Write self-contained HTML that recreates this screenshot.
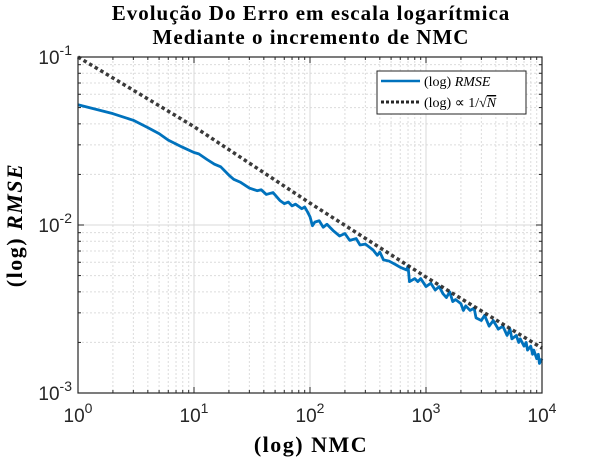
<!DOCTYPE html>
<html><head><meta charset="utf-8"><style>
body{margin:0;background:#fff;}
svg{display:block;}
</style></head><body>
<svg id="chart" width="600" height="460" xmlns="http://www.w3.org/2000/svg">
<rect width="600" height="460" fill="#fff"/>
<g id="grid"></g>
<g id="series"></g>
<g id="axes"></g>
<text x="311" y="20" text-anchor="middle" font-family="Liberation Serif, serif" font-weight="bold" font-size="21" letter-spacing="1">Evolução Do Erro em escala logarítmica</text>
<text x="311" y="44" text-anchor="middle" font-family="Liberation Serif, serif" font-weight="bold" font-size="21" letter-spacing="1">Mediante o incremento de NMC</text>
<text x="311" y="452" text-anchor="middle" font-family="Liberation Serif, serif" font-weight="bold" font-size="22" letter-spacing="1.5">(log) NMC</text>
<text transform="translate(22,225) rotate(-90)" text-anchor="middle" font-family="Liberation Serif, serif" font-weight="bold" font-size="22" letter-spacing="1.5">(log) <tspan font-style="italic">RMSE</tspan></text>
<g>
<rect x="377" y="71" width="149" height="43" fill="#fff" stroke="#262626" stroke-width="1"/>
<line x1="381" y1="81" x2="420" y2="81" stroke="#0072BD" stroke-width="2.5"/>
<text x="424" y="86" font-family="Liberation Serif, serif" font-size="14">(log) <tspan font-style="italic">RMSE</tspan></text>
<line x1="381" y1="102" x2="420" y2="102" stroke="#262626" stroke-width="3" stroke-dasharray="3,2"/>
<text x="424" y="107" font-family="Liberation Serif, serif" font-size="14">(log) ∝ 1/√<tspan text-decoration="overline" font-style="italic">N</tspan></text>
</g>
</svg>
<script>
const nmc = [1,2,3,4,5,6,8,10,11,13,15,17,20,22,25,30,35,38,42,48,55,60,65,70,75,85,90,95,100,105,110,120,130,140,160,180,200,220,250,270,300,350,380,400,430,480,550,600,680,700,720,800,850,900,1000,1100,1200,1300,1400,1500,1600,1700,1800,2000,2100,2200,2400,2600,2700,3000,3200,3500,3800,4200,4600,5000,5300,5500,6000,6300,6500,7000,7300,7500,8000,8300,8500,9000,9300,9500,10000];
const rmse = [0.052,0.046,0.042,0.038,0.035,0.032,0.029,0.027,0.0265,0.0245,0.023,0.0222,0.0198,0.0187,0.0180,0.0166,0.0160,0.0162,0.0152,0.0156,0.0140,0.0134,0.0137,0.0130,0.0133,0.0125,0.0128,0.0120,0.0112,0.0099,0.0104,0.0106,0.0097,0.0101,0.0092,0.0086,0.0089,0.0081,0.0083,0.0076,0.0077,0.0071,0.0066,0.0069,0.0062,0.0061,0.0058,0.0056,0.0054,0.0057,0.0046,0.0048,0.0046,0.0048,0.0043,0.0045,0.0041,0.0043,0.0039,0.0037,0.0040,0.0035,0.0036,0.0034,0.0031,0.0033,0.0031,0.0032,0.0028,0.0027,0.0029,0.0025,0.0027,0.0024,0.0025,0.0022,0.0024,0.0021,0.0022,0.0020,0.0021,0.0019,0.0020,0.0018,0.0019,0.0017,0.0018,0.0016,0.0017,0.0015,0.0016];
const refN = [1,10,100,1000,10000];
const refVal = [0.1,0.0385,0.0135,0.0049,0.00185];
const xTickExp = [0,1,2,3,4];
const yTickExp = [-3,-2,-1];

const L=78,R=542,T=57,B=393;
const xs=v=>L+(Math.log10(v)-0)/4*(R-L);
const ys=v=>B-(Math.log10(v)+3)/2*(B-T);
const NS="http://www.w3.org/2000/svg";
function mk(tag,attrs,parent){const e=document.createElementNS(NS,tag);for(const k in attrs)e.setAttribute(k,attrs[k]);parent.appendChild(e);return e;}
const grid=document.getElementById('grid'),series=document.getElementById('series'),axes=document.getElementById('axes');
mk('rect',{x:L,y:T,width:R-L,height:B-T,fill:'#fff'},grid);
for(let d=0;d<4;d++)for(let m=2;m<=9;m++){const x=xs(m*Math.pow(10,d));
 const l=mk('line',{x1:x,x2:x,y1:T,y2:B,stroke:'#dcdcdc','stroke-dasharray':'2,2','stroke-width':1},grid);
 }
for(let d=-3;d<-1;d++)for(let m=2;m<=9;m++){const y=ys(m*Math.pow(10,d));
 const l=mk('line',{x1:L,x2:R,y1:y,y2:y,stroke:'#dcdcdc','stroke-dasharray':'2,2','stroke-width':1},grid);
 }
xTickExp.forEach(e=>{const x=xs(Math.pow(10,e));
 const l=mk('line',{x1:x,x2:x,y1:T,y2:B,stroke:'#d8d8d8'},grid);
 
 const t=mk('text',{x:x,y:B+29,'text-anchor':'middle','font-family':'Liberation Sans, sans-serif','font-size':19,fill:'#262626'},axes);
 
 t.innerHTML='10<tspan dy="-9" font-size="14">'+e+'</tspan>';});
yTickExp.forEach(e=>{const y=ys(Math.pow(10,e));
 const l=mk('line',{x1:L,x2:R,y1:y,y2:y,stroke:'#d8d8d8'},grid);
 
 const t=mk('text',{x:L-6,y:y+7,'text-anchor':'end','font-family':'Liberation Sans, sans-serif','font-size':19,fill:'#262626'},axes);
 
 t.innerHTML='10<tspan dy="-9" font-size="14">'+e+'</tspan>';});
const p1=mk('polyline',{points:nmc.map((n,i)=>xs(n)+','+ys(rmse[i])).join(' '),fill:'none',stroke:'#0072BD','stroke-width':2.8,'stroke-linejoin':'round'},series);

const p2=mk('polyline',{points:refN.map((n,i)=>xs(n)+','+ys(refVal[i])).join(' '),fill:'none',stroke:'#262626','stroke-width':3.5,'stroke-dasharray':'3.5,3','stroke-opacity':0.9},series);

const box=mk('rect',{x:L,y:T,width:R-L,height:B-T,fill:'none',stroke:'#262626','stroke-width':1.2},axes);

for(let d=0;d<4;d++)for(let m=1;m<=9;m++){const x=xs(m*Math.pow(10,d));const len=m==1?6:3;
 mk('line',{x1:x,x2:x,y1:B,y2:B-len,stroke:'#262626'},axes);mk('line',{x1:x,x2:x,y1:T,y2:T+len,stroke:'#262626'},axes);}
for(let d=-3;d<-1;d++)for(let m=1;m<=9;m++){const y=ys(m*Math.pow(10,d));const len=m==1?6:3;
 mk('line',{x1:L,x2:L+len,y1:y,y2:y,stroke:'#262626'},axes);mk('line',{x1:R,x2:R-len,y1:y,y2:y,stroke:'#262626'},axes);}
</script>
</body></html>
